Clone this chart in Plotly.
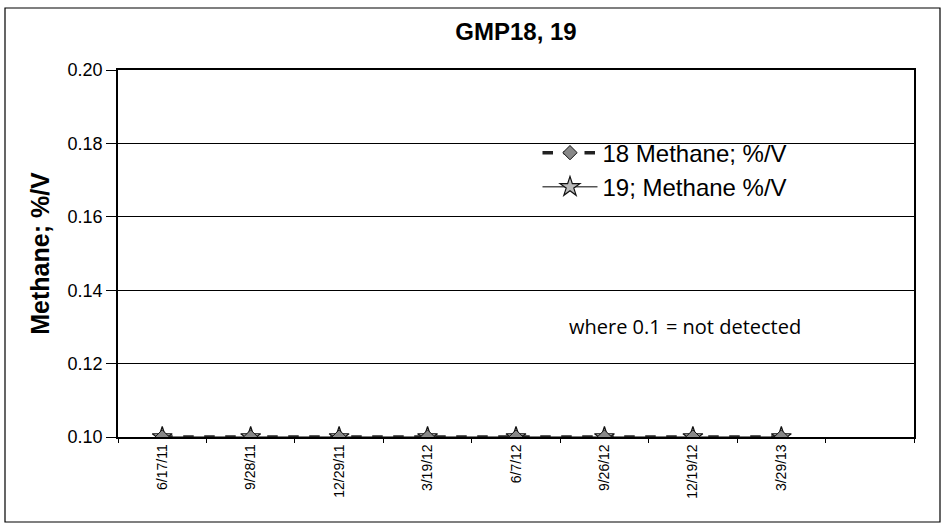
import plotly.graph_objects as go

dates = ["6/17/11", "9/28/11", "12/29/11", "3/19/12", "6/7/12", "9/26/12", "12/19/12", "3/29/13"]
gmp18_methane = [0.1, 0.1, 0.1, 0.1, 0.1, 0.1, 0.1, 0.1]
gmp19_methane = [0.1, 0.1, 0.1, 0.1, 0.1, 0.1, 0.1, 0.1]
categories = dates + [" "]
y_ticks = [0.10, 0.12, 0.14, 0.16, 0.18, 0.20]

FONT = "Liberation Sans, Arial, sans-serif"

fig = go.Figure()
fig.add_trace(go.Scatter(
    x=dates, y=gmp19_methane, name="19; Methane %/V", mode="lines+markers",
    line=dict(color="#555555", width=1.5),
    marker=dict(symbol="star", size=15, color="#bbbbbb", line=dict(color="#111111", width=1.2)),
))
fig.add_trace(go.Scatter(
    x=dates, y=gmp18_methane, name="18 Methane; %/V", mode="lines+markers",
    line=dict(color="#222222", width=3.5, dash="dash"),
    marker=dict(symbol="diamond", size=11, color="#888888", line=dict(color="#111111", width=1)),
))

fig.update_layout(
    width=946, height=527,
    paper_bgcolor="white", plot_bgcolor="white",
    margin=dict(l=118, r=32, t=70, b=90),
    font=dict(family=FONT, color="black", size=18),
    title=dict(text="<b>GMP18, 19</b>", x=0.5, xref="paper", y=1 - 32 / 527,
               yanchor="middle", xanchor="center", font=dict(size=24)),
    showlegend=True,
    legend=dict(x=0.527, y=0.835, xanchor="left", yanchor="top", traceorder="reversed",
                bgcolor="rgba(0,0,0,0)", font=dict(size=24), itemwidth=55,
                tracegroupgap=0),
    xaxis=dict(
        type="category", categoryorder="array", categoryarray=categories,
        range=[-0.5, 8.5], tickson="boundaries", ticks="outside", ticklen=4,
        tickcolor="black", tickangle=-90, tickfont=dict(size=14),
        showline=True, linecolor="black", linewidth=1.5, mirror=True,
        showgrid=False, zeroline=False, automargin=False,
    ),
    yaxis=dict(
        range=[0.10, 0.20], tickvals=y_ticks, tickformat=".2f", ticks="outside",
        ticklen=10, tickcolor="black", showline=True, linecolor="black", linewidth=1.5,
        mirror=True, showgrid=True, gridcolor="black", gridwidth=1, zeroline=False,
        title=dict(text="<b>Methane; %/V</b>", font=dict(size=25), standoff=11),
        tickfont=dict(size=18), automargin=False,
    ),
    shapes=[dict(type="rect", xref="paper", yref="paper",
                 x0=(5 - 118) / 796, x1=(940 - 118) / 796,
                 y0=(437 - 522) / 367, y1=(437 - 8) / 367,
                 line=dict(color="black", width=1.2), layer="below")],
    annotations=[dict(text="where 0.1 = not detected", xref="paper", yref="paper",
                      x=0.712, y=0.302, xanchor="center", yanchor="middle", showarrow=False,
                      font=dict(size=20, family="Open Sans, sans-serif"))],
)

fig.write_html("out.html", config={"displayModeBar": False},
               post_script="document.body.style.margin='0';")
